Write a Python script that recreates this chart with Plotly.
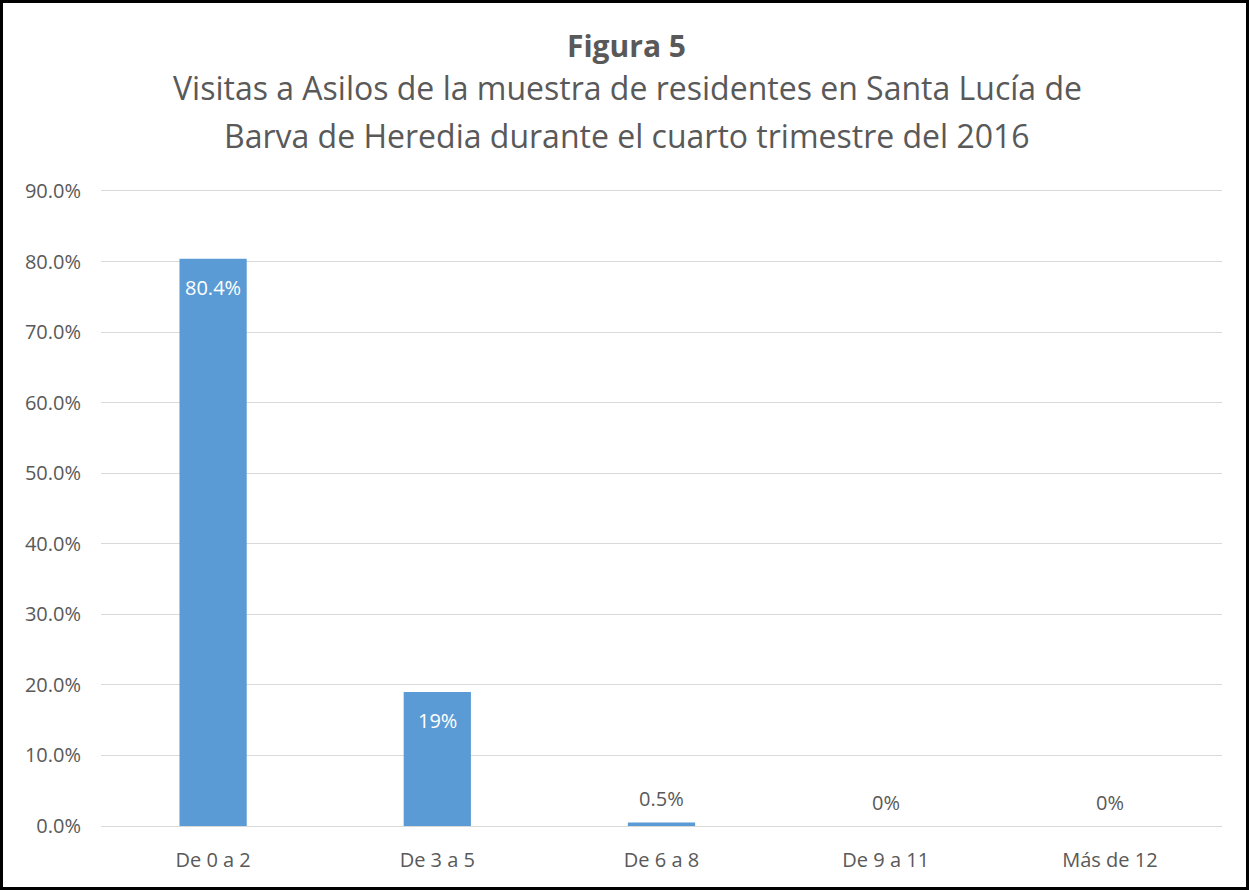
import plotly.graph_objects as go

categories = ["De 0 a 2", "De 3 a 5", "De 6 a 8", "De 9 a 11", "Más de 12"]
values = [80.4, 19.0, 0.5, 0.0, 0.0]
labels = ["80.4%", "19%", "0.5%", "0%", "0%"]
tick_vals = [0, 10, 20, 30, 40, 50, 60, 70, 80, 90]
tick_text = ["0.0%", "10.0%", "20.0%", "30.0%", "40.0%", "50.0%", "60.0%", "70.0%", "80.0%", "90.0%"]

W, H = 1249, 890
L, R, T, B = 101, 27, 191, 64
pw, ph = W - L - R, H - T - B
FONT = "Open Sans"
GRAY = "#595959"

fig = go.Figure(go.Bar(
    x=categories, y=values,
    marker=dict(color="#5B9BD5", line=dict(width=0)),
    hoverinfo="x+y",
))

for c, v, t in zip(categories, values, labels):
    inside = v > 5
    fig.add_annotation(
        x=c, y=v, text=t, showarrow=False, xref="x", yref="y",
        xanchor="center", yanchor="middle",
        yshift=-29 if inside else 24,
        font=dict(family=FONT, size=20, color="white" if inside else GRAY),
    )

fig.update_layout(
    width=W, height=H,
    margin=dict(l=L, r=R, t=T, b=B),
    paper_bgcolor="white", plot_bgcolor="white",
    bargap=0.7,
    showlegend=False,
    font=dict(family=FONT, color=GRAY),
)
fig.update_xaxes(showgrid=False, showline=True, mirror=True, linecolor="#D9D9D9", linewidth=1,
                 ticks="", ticklabelstandoff=16,
                 tickfont=dict(family=FONT, size=20, color=GRAY))
fig.update_yaxes(range=[0, 90], tickvals=tick_vals, ticktext=tick_text,
                 showgrid=True, gridcolor="#D9D9D9", gridwidth=1,
                 zeroline=True, zerolinecolor="#D9D9D9", zerolinewidth=1,
                 showline=False, ticks="", ticklabelstandoff=19,
                 tickfont=dict(family=FONT, size=20, color=GRAY))

def px(x):
    return (x - L) / pw

def py(y):
    return (H - B - y) / ph

fig.add_annotation(x=px(626), y=py(46), xref="paper", yref="paper", showarrow=False,
                   xanchor="center", yanchor="middle",
                   text="<b>Figura 5</b>", font=dict(family=FONT, size=30, color=GRAY))
fig.add_annotation(x=px(627), y=py(88), xref="paper", yref="paper", showarrow=False,
                   xanchor="center", yanchor="middle",
                   text="Visitas a Asilos de la muestra de residentes en Santa Lucía de",
                   font=dict(family=FONT, size=32, color=GRAY))
fig.add_annotation(x=px(627), y=py(136), xref="paper", yref="paper", showarrow=False,
                   xanchor="center", yanchor="middle",
                   text="Barva de Heredia durante el cuarto trimestre del 2016",
                   font=dict(family=FONT, size=32, color=GRAY))

fig.add_shape(type="rect", xref="paper", yref="paper",
              x0=px(1.5), x1=px(W - 1.5), y0=py(1.5), y1=py(H - 1.5),
              line=dict(color="black", width=3), fillcolor="rgba(0,0,0,0)", layer="above")

fig.write_html("out.html", config={"displayModeBar": False},
               post_script="document.body.style.margin='0';document.body.style.overflow='hidden';")
